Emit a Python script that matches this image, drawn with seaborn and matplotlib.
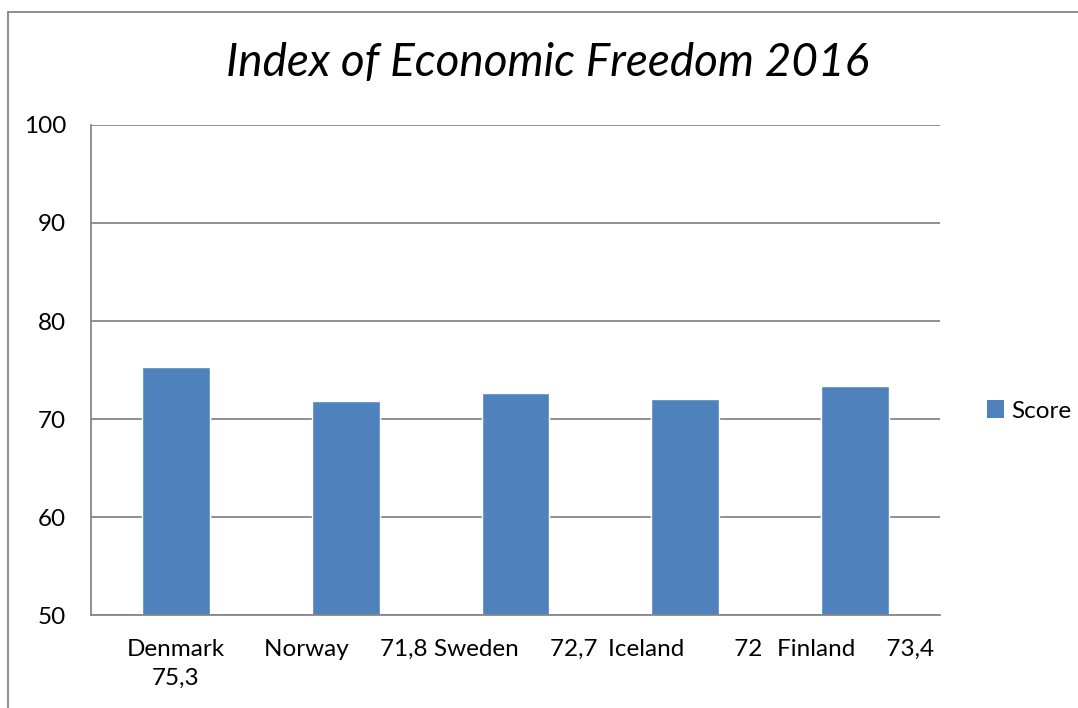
import matplotlib
matplotlib.use("Agg")
import matplotlib.pyplot as plt
import seaborn as sns
from matplotlib.lines import Line2D
from matplotlib.patches import Patch

# data
countries = ["Denmark", "Norway", "Sweden", "Iceland", "Finland"]
scores = [75.3, 71.8, 72.7, 72.0, 73.4]
labels = ["Denmark\n75,3", "Norway     71,8", "Sweden     72,7",
          "Iceland        72", "Finland     73,4"]

sns.set_style("white")
plt.rcParams["font.family"] = ["Lato", "DejaVu Sans"]
plt.rcParams["text.color"] = "black"

grey = "#878787"
bar_col = "#4F81BD"

fig = plt.figure(figsize=(10.78, 7.08), dpi=100)
ax = fig.add_axes([91 / 1078, 1 - 615 / 708, (940 - 91) / 1078, (615 - 125) / 708])

sns.barplot(x=countries, y=scores, color=bar_col, width=0.4, saturation=1, ax=ax)

ax.set_ylim(50, 100)
ax.set_xlim(-0.5, 4.5)
ax.set_yticks(range(50, 101, 10))
ax.yaxis.grid(True, color=grey, linewidth=1.3)
ax.set_axisbelow(True)

ax.set_xticks(range(len(countries)))
ax.set_xticklabels(labels, fontsize=17.5, linespacing=1.5)
ax.set_xticks([i - 0.5 for i in range(len(countries) + 1)], minor=True)
ax.tick_params(axis="x", which="major", length=0, pad=17, labelcolor="black")
ax.tick_params(axis="x", which="minor", length=6, width=1.3, color=grey, direction="out")
ax.tick_params(axis="y", length=6, width=1.3, color=grey, direction="out", pad=12,
               labelsize=17.5, labelcolor="black")
ax.set_xlabel("")
ax.set_ylabel("")

for s in ["top", "right"]:
    ax.spines[s].set_visible(False)
for s in ["left", "bottom"]:
    ax.spines[s].set_color(grey)
    ax.spines[s].set_linewidth(1.3)

fig.text(0.508, 1 - 63 / 708, "Index of Economic Freedom 2016", ha="center", va="center",
         fontsize=33, style="italic", color="black")

handles = [Patch(facecolor=bar_col, edgecolor="none")]
fig.legend(handles, ["Score"], loc="center left", bbox_to_anchor=(965 / 1078, 1 - 411 / 708),
           frameon=False, fontsize=17.5, handlelength=0.7, handleheight=0.7, handletextpad=0.3)

# outer chart border (left and top edges visible)
fig.add_artist(Line2D([8 / 1078, 8 / 1078], [0, 1 - 12 / 708], color=grey, linewidth=1.3,
                      transform=fig.transFigure))
fig.add_artist(Line2D([8 / 1078, 1], [1 - 12 / 708, 1 - 12 / 708], color=grey, linewidth=1.3,
                      transform=fig.transFigure))

fig.savefig("out.png", dpi=100)
